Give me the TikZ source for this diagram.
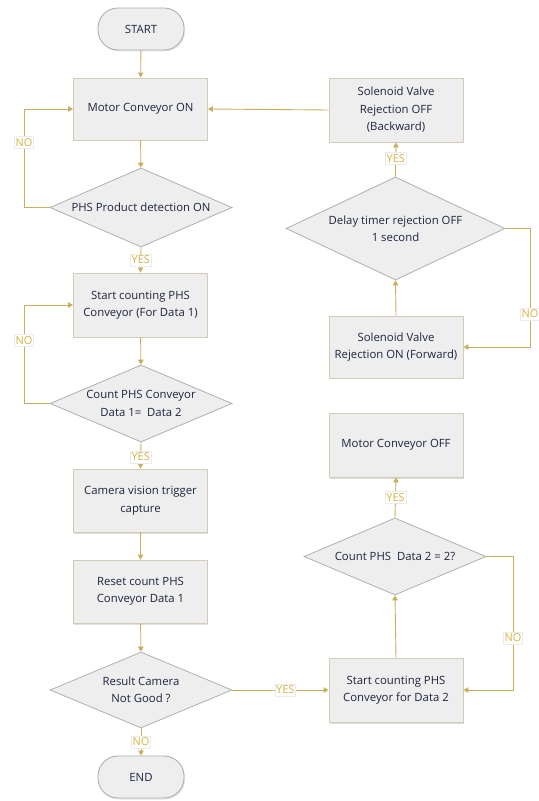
\documentclass[tikz,border=0pt]{standalone}
\usepackage{fontspec}
\setmainfont{Open Sans}
\usetikzlibrary{shapes.geometric,arrows.meta,shadows,calc}
\definecolor{arr}{RGB}{201,174,93}
\definecolor{boxfill}{RGB}{238,238,238}
\definecolor{boxline}{RGB}{210,204,180}
\definecolor{diaLine}{RGB}{168,178,174}
\definecolor{txt}{RGB}{30,36,64}
\definecolor{lbl}{RGB}{214,178,64}
\tikzset{
  base/.style={fill=boxfill, text=txt, font=\fontsize{11.4}{17.5}\selectfont, align=center, inner sep=0pt},
  procbox/.style={base, draw=boxline, line width=0.9pt, rectangle, minimum width=134bp, drop shadow={opacity=0.25, shadow xshift=1pt, shadow yshift=-1.5pt}},
  termbox/.style={base, draw=diaLine, line width=0.9pt, rectangle, rounded corners=20bp, minimum width=86bp, minimum height=42bp, drop shadow={opacity=0.2, shadow xshift=1pt, shadow yshift=-1.5pt}},
  decis/.style={base, draw=diaLine, line width=0.8pt, diamond, fill=boxfill},
  conn/.style={draw=arr, line width=0.9pt, -{Triangle[width=5.5pt,length=5pt]}},
  lab/.style={fill=white, draw=black!8, line width=0.3pt, text=lbl, font=\fontsize{11}{12}\selectfont, inner xsep=1.2pt, inner ysep=2pt}
}
\begin{document}
\begin{tikzpicture}[x=1bp,y=-1bp]
\useasboundingbox (0,0) rectangle (539,801);
% left column
\node[termbox] (start) at (141,29) {START};
\node[procbox, minimum height=62bp] (mon) at (140.5,109) {Motor Conveyor ON};
\node[decis, minimum width=182bp, minimum height=79bp, aspect=2.3] (phs) at (141,207.5) {PHS Product detection ON};
\node[procbox, minimum height=64bp] (scnt1) at (140.5,305) {Start counting PHS\\Conveyor (For Data 1)};
\node[decis, minimum width=182bp, minimum height=77bp, aspect=2.36] (cnt1) at (141,403.5) {Count PHS Conveyor\\Data 1= \ Data 2};
\node[procbox, minimum height=63bp] (cam) at (140.5,500.5) {Camera vision trigger\\capture};
\node[procbox, minimum height=63bp] (rst) at (140.5,591.5) {Reset count PHS\\Conveyor Data 1};
\node[decis, minimum width=182bp, minimum height=76bp, aspect=2.4] (res) at (141,690) {Result Camera\\Not Good ?};
\node[termbox] (end) at (141,777) {END};
% right column
\node[procbox, minimum height=64bp] (soff) at (396,110) {Solenoid Valve\\Rejection OFF\\(Backward)};
\node[decis, minimum width=219bp, minimum height=103bp, aspect=2.13] (delay) at (395.5,228.5) {Delay timer rejection OFF\\1 second};
\node[procbox, minimum height=62bp] (son) at (396,347) {Solenoid Valve\\Rejection ON (Forward)};
\node[procbox, minimum height=64bp] (moff) at (396,445) {Motor Conveyor OFF};
\node[decis, minimum width=182bp, minimum height=77bp, aspect=2.36] (cnt2) at (395,556.5) {Count PHS \ Data 2 = 2?};
\node[procbox, minimum height=64bp] (scnt2) at (396,690) {Start counting PHS\\Conveyor for Data 2};
% corner coordinates
\coordinate (c1) at (24,207.5);
\coordinate (c2) at (24,403.5);
\coordinate (c3) at (530,228.5);
\coordinate (c4) at (513,556.5);
% connectors
\draw[conn] (start) -- (mon);
\draw[conn] (mon) -- (phs);
\draw[conn] (phs.west) -- (c1) |- node[lab, pos=0.33] {NO} (mon.west);
\draw[conn] (phs.south) -- node[lab, pos=0.5] {YES} (scnt1.north);
\draw[conn] (scnt1) -- (cnt1);
\draw[conn] (cnt1.west) -- (c2) |- node[lab, pos=0.32] {NO} (scnt1.west);
\draw[conn] (cnt1.south) -- node[lab, pos=0.55] {YES} (cam.north);
\draw[conn] (cam) -- (rst);
\draw[conn] (rst) -- (res);
\draw[conn] (res.south) -- node[lab, pos=0.5] {NO} (end.north);
\draw[conn] (res.east) -- node[lab, pos=0.55] {YES} (scnt2.west);
\draw[conn] (scnt2.north) -- (cnt2.south);
\draw[conn] (cnt2.east) -- (c4) |- node[lab, pos=0.305] {NO} (scnt2.east);
\draw[conn] (cnt2.north) -- node[lab, pos=0.5] {YES} (moff.south);
\draw[conn] (son.north) -- (delay.south);
\draw[conn] (delay.east) -- (c3) |- node[lab, pos=0.36] {NO} (son.east);
\draw[conn] (delay.north) -- node[lab, pos=0.54] {YES} (soff.south);
\draw[conn] (soff.west) -- (mon.east);
\end{tikzpicture}
\end{document}
